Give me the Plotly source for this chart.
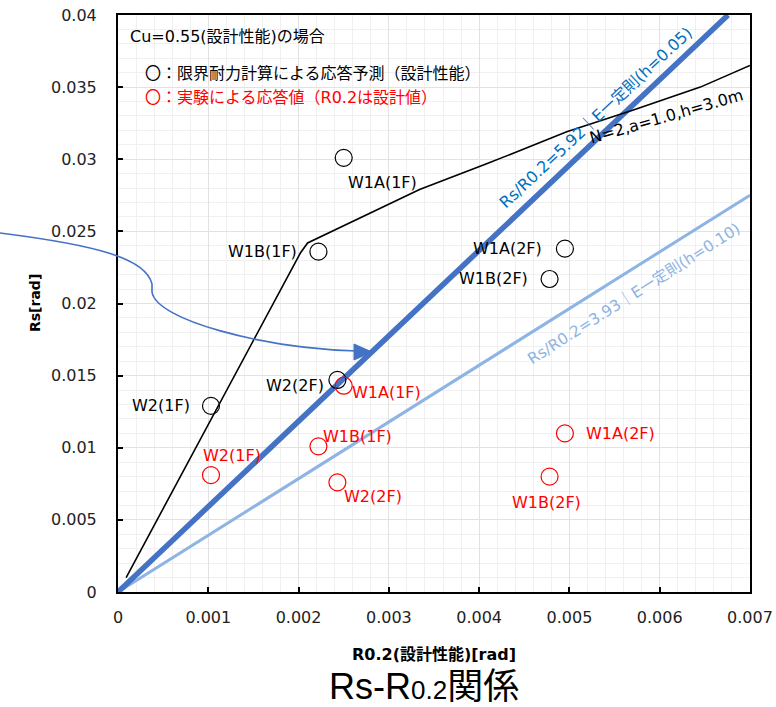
import plotly.graph_objects as go

# ---- data -------------------------------------------------------------
names = ["W1A(1F)", "W1B(1F)", "W1A(2F)", "W1B(2F)", "W2(1F)", "W2(2F)"]
r02_design = [0.00250, 0.00222, 0.00495, 0.00478, 0.00103, 0.00243]   # R0.2 (design)
rs_predicted = [0.0301, 0.0236, 0.0238, 0.0217, 0.0129, 0.0147]       # limit-strength calc
rs_measured = [0.0143, 0.0101, 0.0110, 0.0080, 0.0081, 0.0076]        # test results

# limit-strength curve, N=2, a=1.0, h=3.0m
curve_r02 = [0.00009, 0.00202, 0.00210, 0.00334, 0.00409, 0.00497, 0.00570, 0.00645, 0.00700]
curve_rs = [0.0010, 0.0235, 0.0242, 0.0279, 0.0297, 0.0319, 0.0334, 0.0350, 0.0365]

# equal-energy rule ratios Rs/R0.2
ratio_h005 = 5.92
ratio_h010 = 3.93

x_max = 0.007
y_max = 0.04

# ---- layout geometry ----------------------------------------------------
W, H = 776, 707
ML, MR, MT, MB = 118, 26, 15, 115
PW, PH = W - ML - MR, H - MT - MB

FONT = "DejaVu Sans, Noto Sans CJK JP, sans-serif"
BLUE = "#4472C4"
LIGHT_BLUE = "#8EB4E3"
LABEL_BLUE = "#0070C0"
RED = "#FF0000"


def paper(px, py):
    """Pixel position in the figure -> paper coordinates."""
    return (px - ML) / PW, (MT + PH - py) / PH


def ratio_line(ratio):
    xe = min(x_max, y_max / ratio)
    return [0.0, xe], [0.0, ratio * xe]


fig = go.Figure()

# equal-energy lines
lx, ly = ratio_line(ratio_h010)
fig.add_trace(go.Scatter(x=lx, y=ly, mode="lines",
                         line=dict(color=LIGHT_BLUE, width=3), showlegend=False))
bx, by = ratio_line(ratio_h005)
fig.add_trace(go.Scatter(x=bx, y=by, mode="lines",
                         line=dict(color=BLUE, width=5.5), showlegend=False))

# limit-strength curve
fig.add_trace(go.Scatter(x=curve_r02, y=curve_rs, mode="lines",
                         line=dict(color="black", width=1.6), showlegend=False))

# markers
fig.add_trace(go.Scatter(x=r02_design, y=rs_predicted, mode="markers",
                         marker=dict(symbol="circle-open", size=17,
                                     color="black", line=dict(width=1.2)),
                         showlegend=False))
fig.add_trace(go.Scatter(x=r02_design, y=rs_measured, mode="markers",
                         marker=dict(symbol="circle-open", size=17,
                                     color=RED, line=dict(width=1.2)),
                         showlegend=False))

# point labels (pixel offsets from each marker)
pred_offsets = {"W1A(1F)": (39, -25), "W1B(1F)": (-56, 0), "W1A(2F)": (-57, 0),
                "W1B(2F)": (-56, 0), "W2(1F)": (-50, 0), "W2(2F)": (-42, -6)}
meas_offsets = {"W1A(1F)": (43, -7), "W1B(1F)": (39, 10), "W1A(2F)": (56, 0),
                "W1B(2F)": (-3, -26), "W2(1F)": (21, 20), "W2(2F)": (36, -14)}

annotations = []
for n, xv, yp, ym in zip(names, r02_design, rs_predicted, rs_measured):
    dx, dy = pred_offsets[n]
    annotations.append(dict(x=xv, y=yp, xref="x", yref="y", text=n, showarrow=False,
                            xshift=dx, yshift=dy,
                            font=dict(family=FONT, size=16, color="black")))
    dx, dy = meas_offsets[n]
    annotations.append(dict(x=xv, y=ym, xref="x", yref="y", text=n, showarrow=False,
                            xshift=dx, yshift=dy,
                            font=dict(family=FONT, size=16, color=RED)))

# line labels
xb = 0.005294
annotations.append(dict(x=xb, y=ratio_h005 * xb, xref="x", yref="y",
                        text="Rs/R0.2=5.92｜E一定則(h=0.05)", showarrow=False,
                        textangle=-43, yshift=22,
                        font=dict(family=FONT, size=16, color=LABEL_BLUE)))
xl = 0.005715
annotations.append(dict(x=xl, y=ratio_h010 * xl, xref="x", yref="y",
                        text="Rs/R0.2=3.93｜E一定則(h=0.10)", showarrow=False,
                        textangle=-32.5, yshift=-26,
                        font=dict(family=FONT, size=15.5, color=LIGHT_BLUE)))
annotations.append(dict(x=0.00607, y=0.03419, xref="x", yref="y",
                        text="N=2,a=1.0,h=3.0m", showarrow=False,
                        textangle=-16, yshift=-18,
                        font=dict(family=FONT, size=16, color="black")))

# notes in the upper-left corner
for txt, px0, py, col in [("Cu=0.55(設計性能)の場合", 128, 36, "black"),
                          ("〇：限界耐力計算による応答予測（設計性能）", 143, 73, "black"),
                          ("〇：実験による応答値（R0.2は設計値）", 143, 97, RED)]:
    ax_, ay_ = paper(px0, py)
    annotations.append(dict(x=ax_, y=ay_, xref="paper", yref="paper", text=txt,
                            showarrow=False, xanchor="left", yanchor="middle",
                            font=dict(family=FONT, size=16, color=col)))

# axis titles and chart title
tx, ty = paper(434, 654)
annotations.append(dict(x=tx, y=ty, xref="paper", yref="paper",
                        xanchor="center", yanchor="middle",
                        text="<b>R0.2(設計性能)[rad]</b>", showarrow=False,
                        font=dict(family=FONT, size=16, color="black")))
tx, ty = paper(35, 303)
annotations.append(dict(x=tx, y=ty, xref="paper", yref="paper",
                        xanchor="center", yanchor="middle",
                        text="<b>Rs[rad]</b>", showarrow=False, textangle=-90,
                        font=dict(family=FONT, size=14, color="black")))
tx, ty = paper(424, 686)
annotations.append(dict(x=tx, y=ty, xref="paper", yref="paper",
                        xanchor="center", yanchor="middle",
                        text="Rs-R<span style='font-size:26px'>0.2</span>関係",
                        showarrow=False,
                        font=dict(family="Liberation Sans, Noto Sans CJK JP, sans-serif",
                                  size=36, color="black")))


# curved callout arrow
def pt(px, py):
    a, b = paper(px, py)
    return f"{a:.5f},{b:.5f}"


arrow_path = (f"M {pt(0, 233)} C {pt(95, 245)} {pt(146, 258)} {pt(152, 284)} "
              f"L {pt(152, 292)} C {pt(156, 320)} {pt(262, 348)} {pt(357, 351)}")
head_path = f"M {pt(354, 344)} L {pt(372, 352)} L {pt(354, 360)} Z"
shapes = [
    dict(type="path", path=arrow_path, xref="paper", yref="paper",
         line=dict(color=BLUE, width=1.6)),
    dict(type="path", path=head_path, xref="paper", yref="paper",
         line=dict(color=BLUE, width=1), fillcolor=BLUE),
]

axis_common = dict(
    showline=True, linecolor="black", linewidth=2, mirror=True,
    ticks="inside", ticklen=5, tickwidth=1.5, tickcolor="black",
    showgrid=True, gridcolor="#E2E2E2", gridwidth=1,
    zeroline=False, automargin=False,
    tickfont=dict(family=FONT, size=16, color="#222222"),
)

fig.update_layout(
    width=W, height=H,
    margin=dict(l=ML, r=MR, t=MT, b=MB, autoexpand=False),
    paper_bgcolor="white", plot_bgcolor="white",
    showlegend=False,
    xaxis=dict(range=[0, x_max], dtick=0.001, tick0=0, ticklabelstandoff=10,
               minor=dict(dtick=0.0002, showgrid=True, gridcolor="#F0F0F0", gridwidth=1),
               **axis_common),
    yaxis=dict(range=[0, y_max], dtick=0.005, tick0=0, ticklabelstandoff=16,
               minor=dict(dtick=0.001, showgrid=True, gridcolor="#F0F0F0", gridwidth=1),
               **axis_common),
    annotations=annotations,
    shapes=shapes,
)

fig.write_html("out.html")
